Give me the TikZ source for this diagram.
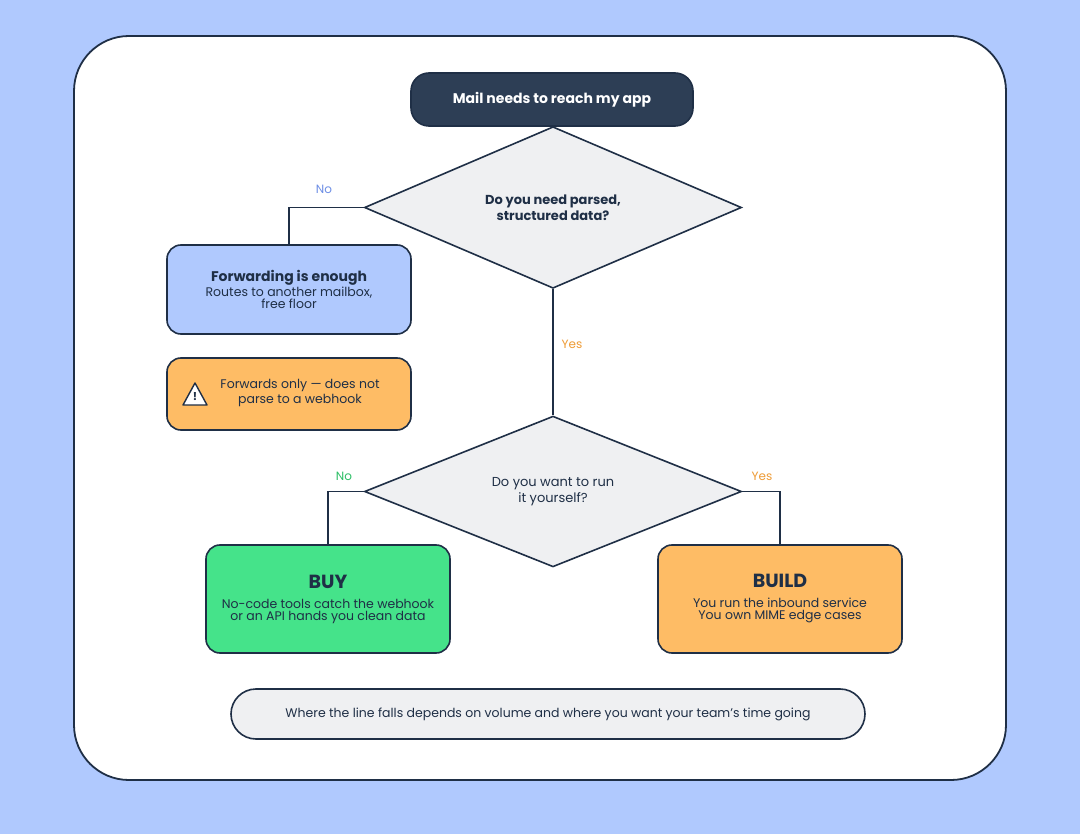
\documentclass[tikz,border=0pt]{standalone}
\usepackage{fontspec}
\setmainfont{Poppins}
\usetikzlibrary{shapes.geometric, positioning, calc}
\definecolor{navy}{HTML}{1F2F46}
\definecolor{darkbox}{HTML}{2D3E55}
\definecolor{skyblue}{HTML}{B0C9FE}
\definecolor{orangebox}{HTML}{FEBC65}
\definecolor{greenbox}{HTML}{45E38A}
\definecolor{greybox}{HTML}{EFF0F2}
\definecolor{nocol}{HTML}{6E8FE6}
\definecolor{yescol}{HTML}{EE9B35}
\definecolor{nogreen}{HTML}{2DBF66}
\begin{document}
\begin{tikzpicture}[
    x=1pt, y=-1pt,
    every node/.style={text=navy},
    card/.style={rectangle, rounded corners=14pt, draw=navy, line width=1.6pt, align=center, minimum width=244pt},
    choice/.style={diamond, draw=navy, line width=1.6pt, fill=greybox, minimum width=377pt, minimum height=109pt, inner sep=0pt, align=center, font=\fontsize{13}{16}\selectfont},
    link/.style={draw=navy, line width=1.6pt},
    answer/.style={font=\fontsize{12}{14}\selectfont}
]
    % background and card
    \fill[skyblue] (0,0) rectangle (1080,834);
    \draw[navy, fill=white, line width=1.8pt, rounded corners=55pt] (74,36) rectangle (1006,780);

    \node[card, fill=darkbox, rounded corners=18pt, minimum width=282pt, minimum height=53pt, text=white, font=\bfseries\fontsize{14}{17}\selectfont] (start) at (552,99.5) {Mail needs to reach my app};

    \node[choice, font=\bfseries\fontsize{13}{16}\selectfont] (parse) at (553,207.5) {Do you need parsed,\\structured data?};
    \node[card, fill=skyblue, minimum height=89pt] (fwd) at (289,289.5) {{\bfseries\fontsize{14}{17}\selectfont Forwarding is enough}\\[1pt]{\fontsize{12.5}{15}\selectfont Routes to another mailbox,}\\{\fontsize{12.5}{15}\selectfont free floor}};
    \node[card, fill=orangebox, minimum height=72pt] (warn) at (289,394) {};
    \node[font=\fontsize{12.5}{15}\selectfont, align=center] (warntext) at (300,393) {Forwards only — does not\\parse to a webhook};
    \draw[navy, line width=1.4pt, fill=white, line join=round] (195,383) -- (207,405) -- (183,405) -- cycle;
    \node[font=\bfseries\fontsize{11}{11}\selectfont, inner sep=0pt] (bang) at (195,397) {!};

    \node[choice] (self) at (553,491.5) {Do you want to run\\it yourself?};
    \node[card, fill=greenbox, minimum height=108pt] (buy) at (328,599) {{\bfseries\fontsize{19}{24}\selectfont BUY}\\[8pt]{\fontsize{12.5}{15}\selectfont No-code tools catch the webhook}\\{\fontsize{12.5}{15}\selectfont or an API hands you clean data}};
    \node[card, fill=orangebox, minimum height=108pt] (build) at (780,599) {{\bfseries\fontsize{19}{24}\selectfont BUILD}\\[8pt]{\fontsize{12.5}{15}\selectfont You run the inbound service}\\{\fontsize{12.5}{15}\selectfont You own MIME edge cases}};

    \node[card, fill=greybox, rounded corners=25pt, minimum width=634pt, minimum height=50pt, font=\fontsize{12.5}{15}\selectfont] (note) at (548,714) {Where the line falls depends on volume and where you want your team’s time going};

    % connectors
    \draw[link] (start) -- (parse.north);
    \draw[link] (parse.west) -| (fwd.north);
    \draw[link] (parse.south) -- (self.north);
    \draw[link] (self.west) -| (buy.north);
    \draw[link] (self.east) -| (build.north);

    % answers
    \node[answer, text=nocol] (no1) at (324,189) {No};
    \node[answer, text=yescol] (yes1) at (572,344) {Yes};
    \node[answer, text=nogreen] (no2) at (344,476) {No};
    \node[answer, text=yescol] (yes2) at (762,476) {Yes};
\end{tikzpicture}
\end{document}
